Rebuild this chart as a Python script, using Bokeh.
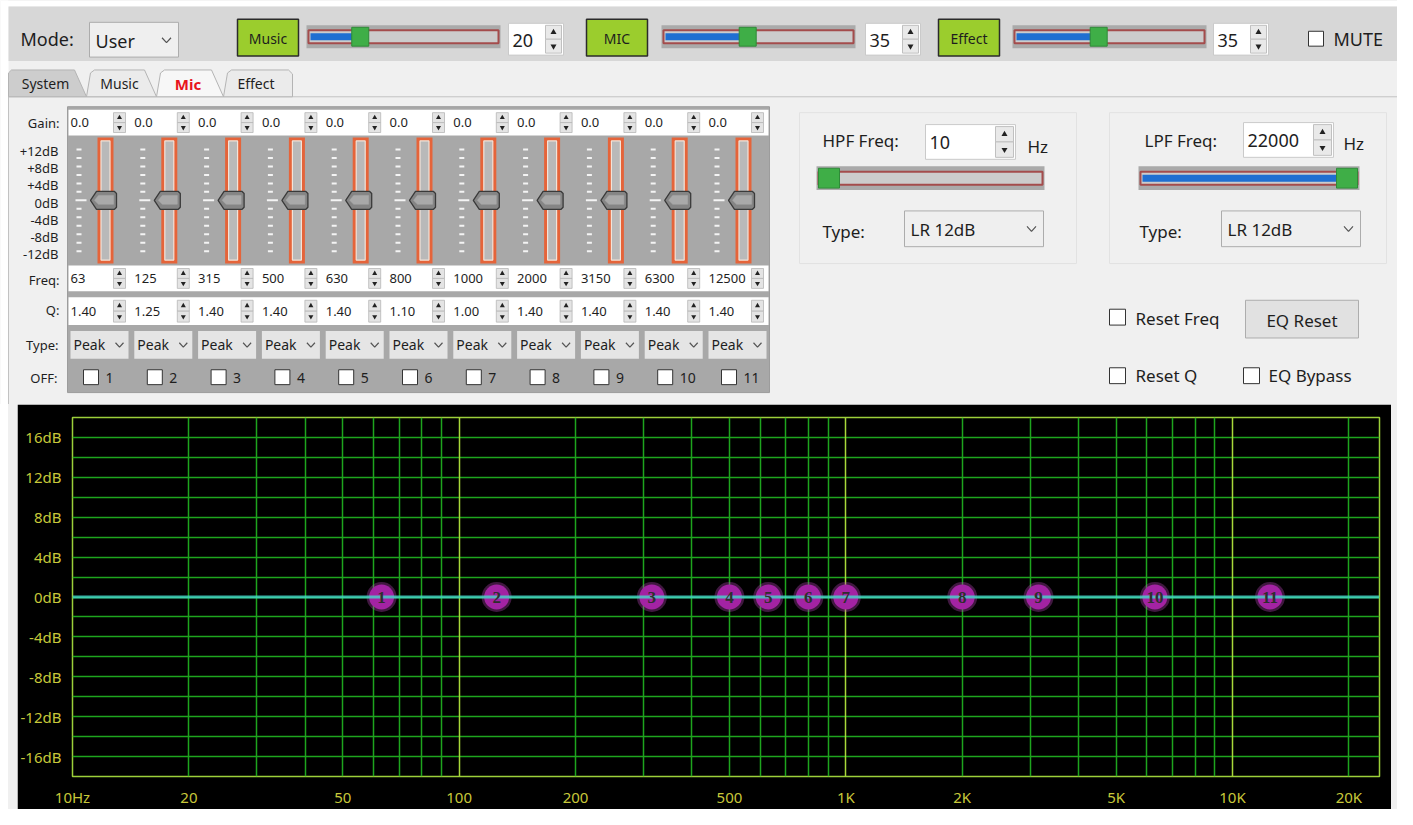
import math
from bokeh.plotting import figure
from bokeh.models import Range1d, FixedTicker, Grid, ColumnDataSource, Column
from bokeh.embed import file_html
from bokeh.resources import INLINE
from bokeh.core.properties import value, field

# ---------------- data ----------------
mode_name = "User"
channel_names = ["Music", "MIC", "Effect"]
channel_levels = [20, 35, 35]
level_max = 80
tab_names = ["System", "Music", "Mic", "Effect"]
active_tab = "Mic"
band_numbers = [1, 2, 3, 4, 5, 6, 7, 8, 9, 10, 11]
band_freq = [63, 125, 315, 500, 630, 800, 1000, 2000, 3150, 6300, 12500]
band_gain = [0.0, 0.0, 0.0, 0.0, 0.0, 0.0, 0.0, 0.0, 0.0, 0.0, 0.0]
band_q = [1.40, 1.25, 1.40, 1.40, 1.40, 1.10, 1.00, 1.40, 1.40, 1.40, 1.40]
band_type = ["Peak"] * 11
fader_label_db = [12, 8, 4, 0, -4, -8, -12]
fader_range_db = 12
hpf_freq = 10
lpf_freq = 22000
filter_freq_min = 10
filter_freq_max = 22000
hpf_type = "LR 12dB"
lpf_type = "LR 12dB"
curve_freq = [10, 24000]
curve_gain = [0.0, 0.0]
graph_db_ticks = [16, 12, 8, 4, 0, -4, -8, -12, -16]
graph_freq_ticks = [10, 20, 50, 100, 200, 500, 1000, 2000, 5000, 10000, 20000]
graph_freq_labels = ["10Hz", "20", "50", "100", "200", "500", "1K", "2K", "5K", "10K", "20K"]

UI_FONT = "Noto Sans"
INK = "#1e1e1e"
PANEL = "#f0f0f0"


class Boxes:
    def __init__(self):
        self.d = dict(l=[], r=[], t=[], b=[], fc=[], fa=[], lc=[], lw=[], la=[])

    def add(self, x0, y0, x1, y1, fill=None, line=None, lw=1.0):
        d = self.d
        d["l"].append(x0); d["r"].append(x1); d["t"].append(y0); d["b"].append(y1)
        d["fc"].append(fill or "#000000"); d["fa"].append(1.0 if fill else 0.0)
        d["lc"].append(line or "#000000"); d["la"].append(1.0 if line else 0.0)
        d["lw"].append(lw if line else 0.0)

    def draw(self, p):
        p.quad(left="l", right="r", top="t", bottom="b", fill_color="fc", fill_alpha="fa",
               line_color="lc", line_alpha="la", line_width="lw",
               source=ColumnDataSource(self.d))


class Polys:
    def __init__(self):
        self.d = dict(xs=[], ys=[], fc=[], lc=[], lw=[])

    def add(self, pts, fill, line, lw=1.0):
        self.d["xs"].append([p[0] for p in pts]); self.d["ys"].append([p[1] for p in pts])
        self.d["fc"].append(fill); self.d["lc"].append(line); self.d["lw"].append(lw)

    def draw(self, p):
        p.patches(xs="xs", ys="ys", fill_color="fc", line_color="lc", line_width="lw",
                  source=ColumnDataSource(self.d))


class Texts:
    def __init__(self):
        self.d = {a: dict(x=[], y=[], s=[], fs=[], c=[], st=[]) for a in ("left", "center", "right")}

    def add(self, x, y, s, fs=13, color=INK, align="left", style="normal"):
        d = self.d[align]
        d["x"].append(x); d["y"].append(y); d["s"].append(s)
        d["fs"].append(f"{fs}px"); d["c"].append(color); d["st"].append(style)

    def draw(self, p):
        for a, d in self.d.items():
            if d["x"]:
                p.text(x="x", y="y", text="s", text_font_size=field("fs"), text_color=field("c"),
                       text_font_style=field("st"), text_align=a, text_baseline="middle",
                       text_font=value(UI_FONT), source=ColumnDataSource(d))


BG = Boxes()
TABS = Polys()
W = Boxes()
THUMBS = Polys()
T = Texts()
seg = dict(x0=[], y0=[], x1=[], y1=[], lw=[])
tri_up = dict(x=[], y=[], s=[])
tri_dn = dict(x=[], y=[], s=[])
chev = dict(xs=[], ys=[])


def chevron(cx, cy, w=4.5, h=2.5):
    chev["xs"].append([cx - w, cx, cx + w]); chev["ys"].append([cy - h, cy + h, cy - h])


def spin(x0, y0, x1, y1, text, fs, sw=18):
    W.add(x0, y0, x1, y1, "#ffffff", "#cacaca", 1)
    mid = (y0 + y1) / 2
    W.add(x1 - sw, y0 + 2, x1 - 2, mid, "#e9e9e9", "#c0c0c0", 1)
    W.add(x1 - sw, mid, x1 - 2, y1 - 2, "#e9e9e9", "#c0c0c0", 1)
    cx = (x1 - sw + x1 - 2) / 2
    tri_up["x"].append(cx); tri_up["y"].append((y0 + 2 + mid) / 2); tri_up["s"].append(6)
    tri_dn["x"].append(cx); tri_dn["y"].append((mid + y1 - 2) / 2); tri_dn["s"].append(6)
    T.add(x0 + 4, mid + 1, text, fs)


def hslider(x0, y0, x1, y1, frac, tw):
    cy = (y0 + y1) / 2
    W.add(x0, y0, x1, y1, "#aaaaaa")
    W.add(x0 + 2, cy - 6.5, x1 - 2, cy + 6.5, "#cccccc", "#a44c4c", 2)
    tx = x0 + 2 + tw / 2 + frac * (x1 - x0 - 4 - tw)
    if tx > x0 + 5:
        W.add(x0 + 4, cy - 3.5, tx, cy + 3.5, "#1f6fd1")
    W.add(tx - tw / 2, y0 + 2, tx + tw / 2, y1 - 2, "#3fae47", "#2f8a38", 1)


def checkbox(x0, y0, size=16):
    W.add(x0, y0, x0 + size, y0 + size, "#ffffff", "#333333", 1)


# ---------------- page frame ----------------
BG.add(0, 0, 1397, 6, "#ffffff")
BG.add(0, 0, 8, 410, "#ffffff")
BG.add(8, 6, 1405, 61, "#d7d7d7")
BG.add(8, 97, 1405, 430, PANEL, "#c2c2c2", 1)

# ---------------- toolbar ----------------
T.add(20, 39, "Mode:", 18)
W.add(89, 22, 178, 57, "#efefef", "#acacac", 1)
T.add(95, 41, mode_name, 18)
chevron(166, 40)

button_x = [237, 586, 938]
slider_x = [306, 661, 1012]
spin_x = [508, 865, 1213]
for i, (name, lvl) in enumerate(zip(channel_names, channel_levels)):
    bx = button_x[i]
    W.add(bx, 19, bx + 61, 56, "#9bcd2d", "#2b2b2b", 1.5)
    T.add(bx + 30.5, 38, name, 14, align="center")
    hslider(slider_x[i], 25, slider_x[i] + 194, 48, lvl / level_max, 17)
    spin(spin_x[i], 23, spin_x[i] + 55, 55, str(lvl), 18)

checkbox(1308, 31, 15)
T.add(1333, 39, "MUTE", 18)

# ---------------- tabs ----------------
tab_edges = [8, 86, 156, 223, 292]
for i, name in enumerate(tab_names):
    x0, x1 = tab_edges[i], tab_edges[i + 1]
    if i == 0:
        pts = [(x0, 97), (x0, 73), (x0 + 3, 70), (x1 - 12, 70), (x1, 97)]
        fill = "#cdcdcd"
    elif i == len(tab_names) - 1:
        pts = [(x0, 97), (x0 + 4, 73), (x0 + 8, 70), (x1 - 4, 70), (x1, 74), (x1, 97)]
        fill = "#ebebeb"
    else:
        pts = [(x0, 97), (x0 + 4, 73), (x0 + 8, 70), (x1 - 12, 70), (x1, 97)]
        fill = "#ebebeb"
    if name == active_tab:
        fill = "#f7f7f7"
    TABS.add(pts, fill, "#b4b4b4", 1)
    cx = (x0 + x1) / 2 - 2
    if name == active_tab:
        T.add(cx, 84, name, 15, color="#e8141b", align="center", style="bold")
    else:
        T.add(cx, 84, name, 14, align="center")

# ---------------- EQ band panel ----------------
W.add(67, 107, 769, 395, "#a8a8a8", "#9c9c9c", 1)
rows = {"gain": (110, 136), "freq": (267, 293), "q": (299, 327)}
for (y0, y1) in rows.values():
    W.add(68, y0, 768, y1, "#ffffff")

T.add(59, 123, "Gain:", 13, align="right")
T.add(59, 282, "Freq:", 13, align="right")
T.add(59, 312, "Q:", 13, align="right")
T.add(58, 347, "Type:", 13, align="right")
T.add(57, 380, "OFF:", 13, align="right")
for d in fader_label_db:
    lab = "0dB" if d == 0 else f"{d:+d}dB"
    T.add(58, 203.5 - d * 4.35, lab, 13, align="right")

pitch = 63.8
fader_top, fader_bot = 150.0, 252.7
fader_mid = (fader_top + fader_bot) / 2
for i in range(len(band_freq)):
    c = 68 + i * pitch
    vals = {"gain": f"{band_gain[i]:.1f}", "freq": str(band_freq[i]), "q": f"{band_q[i]:.2f}"}
    for key, (y0, y1) in rows.items():
        mid = (y0 + y1) / 2
        W.add(c + 45, y0 + 3, c + 57, mid, "#e4e4e4", "#b6b6b6", 0.8)
        W.add(c + 45, mid, c + 57, y1 - 3, "#e4e4e4", "#b6b6b6", 0.8)
        tri_up["x"].append(c + 51); tri_up["y"].append((y0 + 3 + mid) / 2); tri_up["s"].append(5)
        tri_dn["x"].append(c + 51); tri_dn["y"].append((mid + y1 - 3) / 2); tri_dn["s"].append(5)
        T.add(c + 2, mid, vals[key], 13)
    for k in range(13):
        y = fader_top + k * (fader_bot - fader_top) / 12
        if k == 6:
            seg["x0"].append(c + 7); seg["x1"].append(c + 18)
        else:
            seg["x0"].append(c + 8); seg["x1"].append(c + 13)
        seg["y0"].append(y); seg["y1"].append(y); seg["lw"].append(2)
    W.add(c + 29, 138, c + 45, 265, "#e5643a")
    W.add(c + 32.5, 141.5, c + 41.5, 261.5, "#b9b9b9", "#f3e3d8", 1.2)
    ty = fader_mid - band_gain[i] * (fader_bot - fader_top) / (2 * fader_range_db)
    THUMBS.add([(c + 22, ty), (c + 28, ty - 9), (c + 46, ty - 9), (c + 48, ty - 7),
                (c + 48, ty + 7), (c + 46, ty + 9), (c + 28, ty + 9)], "#858585", "#3a3a3a", 1.3)
    THUMBS.add([(c + 26, ty), (c + 30, ty - 5), (c + 45, ty - 5),
                (c + 45, ty + 4), (c + 30, ty + 4)], "#a9a9a9", "#a9a9a9", 0.5)
    W.add(c + 2, 333, c + 60, 361, "#e5e5e5")
    T.add(c + 5, 347, band_type[i], 14)
    chevron(c + 51, 347, 4, 2.2)
    checkbox(c + 15, 372, 15)
    T.add(c + 37, 380, str(band_numbers[i]), 14)


def flog(f):
    return math.log(f / filter_freq_min) / math.log(filter_freq_max / filter_freq_min)


# ---------------- HPF / LPF ----------------
for gx, lab, lx, fval, ftype, sx, sx1, spx, spy, hzx, hzy, tlx, ddx in [
    (799, "HPF Freq:", 822, hpf_freq, hpf_type, 816, 1044, 925, 125, 1027, 147, 822, 904),
    (1109, "LPF Freq:", 1144, lpf_freq, lpf_type, 1138, 1359, 1243, 123, 1343, 144, 1139, 1221),
]:
    W.add(gx, 113, gx + 277, 265, None, "#e2e2e2", 1)
    T.add(lx, 141, lab, 17)
    spin(spx, spy, spx + 90, spy + 35, str(fval), 18, sw=20)
    T.add(hzx, hzy, "Hz", 17)
    hslider(sx, 167, sx1, 191, flog(fval), 21)
    T.add(tlx, 233, "Type:", 17)
    W.add(ddx, 212, ddx + 139, 248, "#efefef", "#acacac", 1)
    T.add(ddx + 6, 231, ftype, 17)
    chevron(ddx + 127, 230)

checkbox(1109, 311, 16)
T.add(1135, 320, "Reset Freq", 17)
W.add(1245, 302, 1358, 340, "#e1e1e1", "#adadad", 1)
T.add(1301.5, 322, "EQ Reset", 17, align="center")
checkbox(1109, 370, 16)
T.add(1135, 378, "Reset Q", 17)
checkbox(1243, 370, 16)
T.add(1268, 378, "EQ Bypass", 17)

# ---------------- top figure ----------------
top = figure(width=1397, height=404, x_range=Range1d(0, 1397), y_range=Range1d(407, 0),
             output_backend="svg", toolbar_location=None, min_border=0,
             x_axis_location=None, y_axis_location=None, frame_align=False,
             background_fill_color=PANEL, border_fill_color=PANEL, outline_line_color=None)
top.grid.visible = False
BG.draw(top)
TABS.draw(top)
W.draw(top)
top.segment(x0="x0", y0="y0", x1="x1", y1="y1", line_color="#f4f4f4", line_width="lw",
            source=ColumnDataSource(seg))
THUMBS.draw(top)
top.scatter(x="x", y="y", size="s", marker="triangle", fill_color="#222222", line_color=None,
            source=ColumnDataSource(tri_up))
top.scatter(x="x", y="y", size="s", marker="inverted_triangle", fill_color="#222222", line_color=None,
            source=ColumnDataSource(tri_dn))
top.multi_line(xs="xs", ys="ys", line_color="#555555", line_width=1.2, source=ColumnDataSource(chev))
T.draw(top)

# ---------------- EQ graph ----------------
eq = figure(width=1374, height=405, x_axis_type="log", x_range=Range1d(10, 24000),
            y_range=Range1d(-18, 18), output_backend="svg", toolbar_location=None,
            min_border_left=55, min_border_right=12, min_border_top=13, min_border_bottom=25,
            background_fill_color="#000000", border_fill_color="#000000", frame_align=False,
            outline_line_color="#9ccf3a", outline_line_width=1.5, margin=(0, 6, 0, 17))

minor_lines = [m * 10 ** e for e in (1, 2, 3) for m in range(2, 10)] + [20000]
eq.xgrid.ticker = FixedTicker(ticks=minor_lines)
eq.xgrid.grid_line_color = "#1ea51e"
eq.xgrid.grid_line_width = 1.5
eq.add_layout(Grid(dimension=0, ticker=FixedTicker(ticks=[100, 1000, 10000]),
                   grid_line_color="#a8d83a", grid_line_width=1.5))
eq.ygrid.ticker = FixedTicker(ticks=list(range(-16, 17, 2)))
eq.ygrid.grid_line_color = "#1ea51e"
eq.ygrid.grid_line_width = 1.5

eq.xaxis.ticker = FixedTicker(ticks=graph_freq_ticks, minor_ticks=[])
eq.xaxis.major_label_overrides = {f: lab for f, lab in zip(graph_freq_ticks, graph_freq_labels)}
eq.yaxis.ticker = FixedTicker(ticks=graph_db_ticks, minor_ticks=[])
eq.yaxis.major_label_overrides = {d: f"{d}dB" for d in graph_db_ticks}
for ax in (eq.xaxis, eq.yaxis):
    ax.axis_line_color = None
    ax.major_tick_line_color = None
    ax.minor_tick_line_color = None
    ax.major_label_text_color = "#c8c83a"
    ax.major_label_text_font = UI_FONT
    ax.major_label_text_font_size = "15px"
eq.xaxis.major_label_standoff = 4
eq.yaxis.major_label_standoff = 5

eq.scatter(band_freq, band_gain, size=30, fill_color="#b845b8", fill_alpha=0.35, line_color=None)
eq.scatter(band_freq, band_gain, size=25, fill_color="#a323a3", line_color=None)
eq.line(curve_freq, curve_gain, line_color="#45d8cc", line_width=3, line_alpha=0.8)
eq.text(band_freq, band_gain, text=[str(n) for n in band_numbers], text_align="center",
        text_baseline="middle", text_font=value("Liberation Serif"), text_font_size="17px",
        text_font_style="bold", text_color="#2e2e2e")

layout = Column(children=[top, eq],
                styles={"background": "linear-gradient(to right, #ffffff 0px, #ffffff 8px, #f0f0f0 8px)"})
open("out.html", "w").write(file_html(layout, INLINE))
